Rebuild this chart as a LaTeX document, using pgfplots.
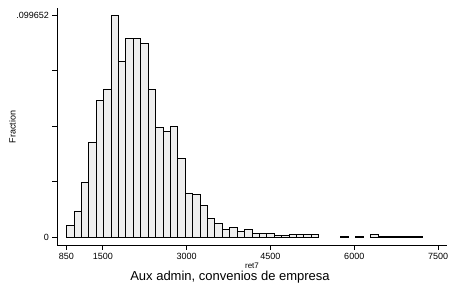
\documentclass[border=0pt]{standalone}
\usepackage{pgfplots}
\pgfplotsset{compat=1.18}
\usepackage{fontspec}
\setmainfont{Liberation Sans}
\definecolor{barfill}{RGB}{238,238,238}
\begin{document}
\begin{tikzpicture}[x=1pt,y=1pt]
\useasboundingbox (0,0) rectangle (449,286);
\begin{axis}[
  at={(57pt,40.5pt)}, anchor=south west,
  scale only axis, width=390pt, height=237.5pt,
  xmin=680, xmax=7660, ymin=-0.00373, ymax=0.10297,
  axis x line*=bottom, axis y line*=left,
  axis line style={-, line width=0.8pt, black},
  tick align=outside, major tick length=4.5pt,
  tick style={black, line width=0.8pt},
  /pgf/number format/assume math mode=true,
  xtick={850,1500,3000,4500,6000,7500},
  xticklabels={850,1500,3000,4500,6000,7500},
  ytick={0,0.024913,0.049826,0.074739,0.099652},
  yticklabels={0,,,,.099652},
  tick label style={font=\fontsize{9}{9}\selectfont},
  ybar, bar width=132.7, bar shift=0pt,
  clip=false,
]
\addplot[fill=barfill, draw=black, line width=0.7pt] coordinates {
(916.35,0.00525) (1049.05,0.0118) (1181.75,0.02455) (1314.45,0.0428)
(1447.15,0.0615) (1579.85,0.0666) (1712.55,0.099652) (1845.25,0.0789)
(1977.95,0.0892) (2110.65,0.0892) (2243.35,0.0871) (2376.05,0.0663)
(2508.75,0.0494) (2641.45,0.0474) (2774.15,0.0498) (2906.85,0.0353)
(3039.55,0.0199) (3172.25,0.0192) (3304.95,0.0141) (3437.65,0.00826)
(3570.35,0.00628) (3703.05,0.00332) (3835.75,0.00422) (3968.45,0.00256)
(4101.15,0.00332) (4233.85,0.0018) (4366.55,0.0018) (4499.25,0.0018)
(4631.95,0.00076) (4764.65,0.00076) (4897.35,0.00108) (5030.05,0.00108)
(5162.75,0.00108) (5295.45,0.00108)
(5826.25,0.0005) (6091.65,0.0005) (6357.05,0.00115)
(6489.75,0.0005) (6622.45,0.0005) (6755.15,0.0005) (6887.85,0.0005)
(7020.55,0.0005) (7153.25,0.0005)
};
\end{axis}
\node[rotate=90, anchor=base, font=\fontsize{9}{9}\selectfont] at (15.7,159) {Fraction};
\node[anchor=base, font=\fontsize{8}{8}\selectfont] at (252,17.7) {ret7};
\node[anchor=base, font=\fontsize{13}{13}\selectfont] at (230,5.3) {Aux admin, convenios de empresa};
\end{tikzpicture}
\end{document}
